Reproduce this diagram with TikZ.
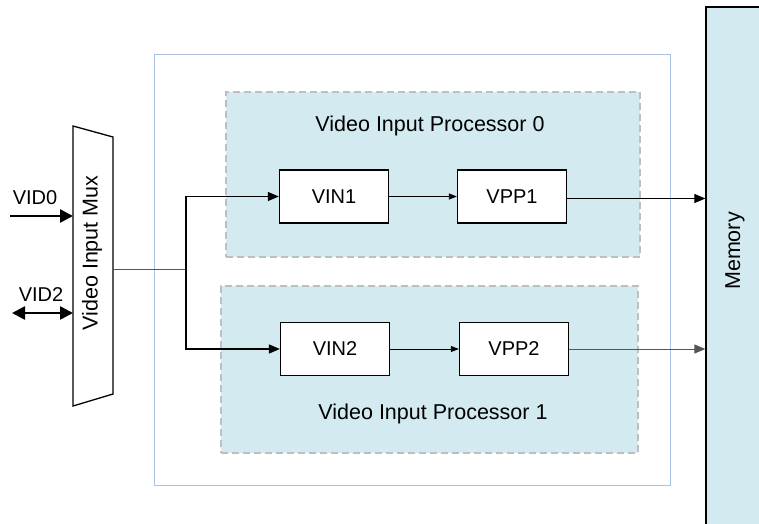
\documentclass[tikz,border=0pt]{standalone}
\usepackage{fontspec}
\setmainfont{Liberation Sans}
\usetikzlibrary{arrows.meta}

\definecolor{procfill}{HTML}{D3EAF0}
\definecolor{procedge}{HTML}{BFBFBF}
\definecolor{outeredge}{HTML}{A9C3E3}
\definecolor{wiregray}{HTML}{555555}

\tikzset{
  lbl/.style={font=\fontsize{20}{24}\selectfont, inner sep=0pt},
  longlbl/.style={font=\fontsize{21.5}{25}\selectfont, inner sep=0pt},
  blk/.style={draw=black, line width=1.3pt, fill=white, minimum width=109pt,
    minimum height=53pt, inner sep=0pt, lbl},
  proc/.style={draw=procedge, line width=2pt, dash pattern=on 7pt off 4pt,
    fill=procfill, inner sep=0pt},
  conn/.style={black, line width=1.3pt, -{Triangle[length=11pt,width=9pt]}},
  thinconn/.style={black, line width=0.8pt, -{Triangle[length=8pt,width=6pt]}},
  busin/.style={black, line width=2.5pt, -{Triangle[length=13pt,width=13pt]}},
  busio/.style={black, line width=2.5pt, {Triangle[length=13pt,width=13pt]}-{Triangle[length=13pt,width=13pt]}},
}

\begin{document}
\begin{tikzpicture}[x=1pt, y=-1pt]
  \useasboundingbox (0,0) rectangle (759,523);
  \clip (0,0) rectangle (759,523);

  % outer subsystem frame
  \node[draw=outeredge, line width=1pt, minimum width=516pt, minimum height=431pt,
        inner sep=0pt] (frame) at (412,269.5) {};

  % memory column
  \node[draw=black, line width=1.3pt, fill=procfill, minimum width=70pt,
        minimum height=540pt, inner sep=0pt] (mem) at (741,277) {};
  \node[longlbl, rotate=90] (memlbl) at (735,251) {Memory};

  % video input processors
  \node[proc, minimum width=414pt, minimum height=165pt] (vip0) at (433,174.5) {};
  \node[longlbl] (vip0lbl) at (430,126) {Video Input Processor 0};
  \node[proc, minimum width=417pt, minimum height=167pt] (vip1) at (429.5,369.5) {};
  \node[longlbl] (vip1lbl) at (433,414) {Video Input Processor 1};

  % processing blocks
  \node[blk] (vin1) at (334,196.5) {VIN1};
  \node[blk] (vpp1) at (512,196.5) {VPP1};
  \node[blk] (vin2) at (335,349) {VIN2};
  \node[blk] (vpp2) at (514,349) {VPP2};

  % input multiplexer
  \coordinate (mtl) at (73,126);
  \coordinate (mtr) at (113,137);
  \coordinate (mbr) at (113,394);
  \coordinate (mbl) at (73,406);
  \draw[line width=1.3pt, fill=white] (mtl) -- (mtr) -- (mbr) -- (mbl) -- cycle;
  \node[longlbl, rotate=90] (muxlbl) at (92,253) {Video Input Mux};

  % external video ports
  \coordinate (vid0src) at (10,216);
  \coordinate (vid0dst) at (73,216);
  \coordinate (vid2src) at (12,313);
  \coordinate (vid2dst) at (73,313);
  \draw[busin] (vid0src) -- (vid0dst);
  \draw[busio] (vid2src) -- (vid2dst);
  \node[lbl] (vid0lbl) at (35,198) {VID0};
  \node[lbl] (vid2lbl) at (41,295) {VID2};

  % mux output fan-out
  \coordinate (muxout) at (113,269);
  \coordinate (split) at (186,269);
  \draw[wiregray, line width=1pt] (muxout) -- (split);
  \draw[conn] (split) |- (vin1.west);
  \draw[conn] (split) |- (vin2.west);

  % pipeline and memory writes
  \draw[thinconn] (vin1.east) -- (vpp1.west);
  \draw[thinconn] (vin2.east) -- (vpp2.west);
  \draw[conn, line width=1pt] ([yshift=-2pt]vpp1.east) -- ([yshift=-2pt]vpp1.east -| mem.west);
  \draw[conn, wiregray, line width=1pt] (vpp2.east) -- (vpp2.east -| mem.west);
\end{tikzpicture}
\end{document}
